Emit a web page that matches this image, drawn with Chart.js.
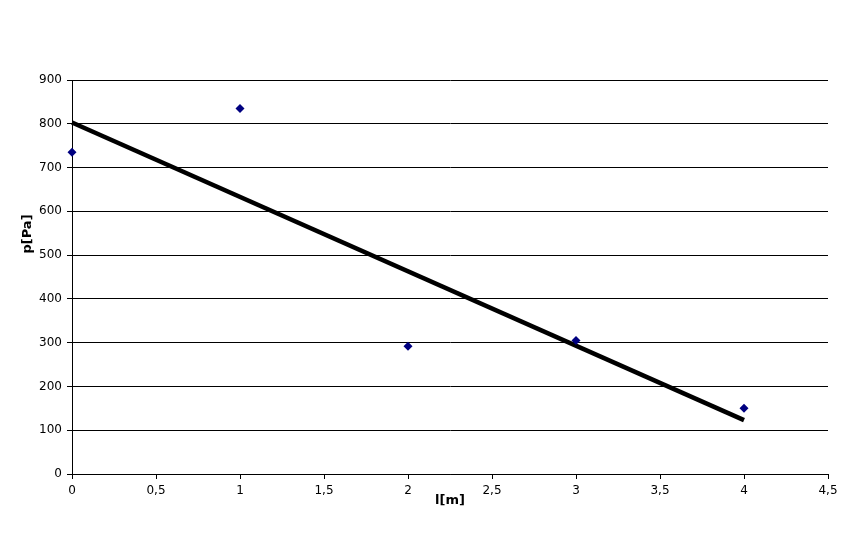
<!DOCTYPE html>
<html>
<head>
<meta charset="utf-8">
<script src="https://cdn.jsdelivr.net/npm/chart.js@4.4.1/dist/chart.umd.min.js"></script>
<style>
  html, body { margin: 0; padding: 0; background: #fff; }
  canvas { display: block; }
</style>
</head>
<body>
<canvas id="chart" width="865" height="545"></canvas>
<script>
// measured values
const lengths = [0, 1, 2, 3, 4];
const pressures = [735, 835, 292, 305, 150];

// trend line end points
const trendX = [0, 4];
const trendY = [803, 123];

const xTitle = 'l[m]';
const yTitle = 'p[Pa]';

const FONT = 'DejaVu Sans';

function comma(v) {
    return String(v).replace('.', ',');
}

// axis titles drawn at the same spot as the original
const axisTitles = {
    id: 'axisTitles',
    afterDraw(chart) {
        const ctx = chart.ctx;
        ctx.save();
        ctx.fillStyle = '#000';
        ctx.font = 'bold 13px "' + FONT + '"';
        ctx.textAlign = 'center';
        ctx.textBaseline = 'middle';
        ctx.fillText(xTitle, 450, 501);
        ctx.translate(28, 234);
        ctx.rotate(-Math.PI / 2);
        ctx.fillText(yTitle, 0, 0);
        ctx.restore();
    }
};

new Chart(document.getElementById('chart'), {
    type: 'scatter',
    data: {
        datasets: [
            {
                label: 'p',
                data: lengths.map((x, i) => ({ x: x, y: pressures[i] })),
                pointStyle: 'rectRot',
                pointRadius: 4.5,
                backgroundColor: '#000080',
                borderColor: '#000080',
                borderWidth: 0,
                clip: false
            },
            {
                label: 'trend',
                data: trendX.map((x, i) => ({ x: x, y: trendY[i] })),
                showLine: true,
                borderColor: '#000',
                borderWidth: 4.5,
                pointRadius: 0,
                clip: false
            }
        ]
    },
    options: {
        responsive: false,
        animation: false,
        layout: { padding: { top: 80, right: 37, left: 0, bottom: 0 } },
        plugins: {
            legend: { display: false },
            tooltip: { enabled: false }
        },
        scales: {
            x: {
                type: 'linear',
                min: 0,
                max: 4.5,
                afterFit(scale) { scale.height = 71; },
                ticks: {
                    stepSize: 0.5,
                    color: '#000',
                    font: { family: FONT, size: 12 },
                    padding: 5,
                    maxRotation: 0,
                    callback: v => comma(v)
                },
                grid: {
                    drawOnChartArea: false,
                    drawTicks: true,
                    tickLength: 5,
                    color: '#000'
                },
                border: { display: true, color: '#000', width: 1 }
            },
            y: {
                type: 'linear',
                min: 0,
                max: 900,
                afterFit(scale) { scale.width = 72; },
                ticks: {
                    stepSize: 100,
                    color: '#000',
                    font: { family: FONT, size: 12 },
                    padding: 5
                },
                grid: {
                    color: '#000',
                    tickLength: 5,
                    lineWidth: 1
                },
                border: { display: true, color: '#000', width: 1 }
            }
        }
    },
    plugins: [axisTitles]
});
</script>
</body>
</html>
